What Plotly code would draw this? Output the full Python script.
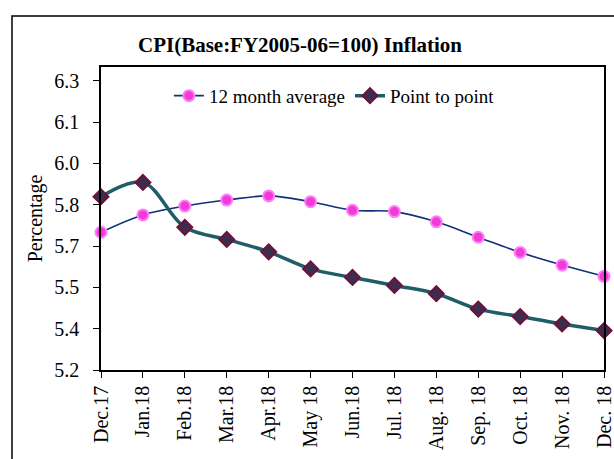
import plotly.graph_objects as go

months = ["Dec.17", "Jan.18", "Feb.18", "Mar.18", "Apr.18", "May 18", "Jun.18",
          "Jul. 18", "Aug. 18", "Sep. 18", "Oct. 18", "Nov. 18", "Dec. 18"]
avg_12m = [5.70, 5.763, 5.795, 5.817, 5.832, 5.811, 5.780, 5.775, 5.738, 5.682, 5.627, 5.581, 5.540]
point_to_point = [5.829, 5.881, 5.718, 5.674, 5.629, 5.567, 5.536, 5.507, 5.477, 5.421, 5.394, 5.367, 5.343]

y_tickvals = [5.2, 5.35, 5.5, 5.65, 5.8, 5.95, 6.1, 6.25]
y_ticktext = ["5.2", "5.4", "5.5", "5.7", "5.8", "6.0", "6.1", "6.3"]

FONT = "Liberation Serif, Times New Roman, serif"
W, H = 614, 459

fig = go.Figure()
fig.add_trace(go.Scatter(
    x=months, y=avg_12m, name="12 month average",
    mode="lines+markers",
    line=dict(color="#10307A", width=1.6, shape="spline", smoothing=1),
    marker=dict(symbol="circle", size=11, color="#F03CD2",
                line=dict(color="#FF7CFF", width=2)),
    cliponaxis=False,
))
fig.add_trace(go.Scatter(
    x=months, y=point_to_point, name="Point to point",
    mode="lines+markers",
    line=dict(color="#1F5E68", width=3.5, shape="spline", smoothing=1),
    marker=dict(symbol="diamond", size=12, color="#3D2C4C",
                line=dict(color="#7A0A3A", width=1.5)),
    cliponaxis=False,
))

fig.update_layout(
    width=W, height=H,
    margin=dict(l=101, r=10, t=67, b=89),
    paper_bgcolor="white", plot_bgcolor="white",
    font=dict(family=FONT, size=20, color="black"),
    title=dict(text="<b>CPI(Base:FY2005-06=100) Inflation</b>",
               x=300 / W, xanchor="center", xref="container",
               y=1 - 45 / H, yanchor="middle",
               font=dict(family=FONT, size=21, color="black")),
    legend=dict(orientation="h", x=0.793, xanchor="right", y=0.905, yanchor="middle",
                bgcolor="rgba(0,0,0,0)", font=dict(family=FONT, size=19),
                itemwidth=30, tracegroupgap=0),
    showlegend=True,
    shapes=[dict(type="rect", xref="paper", yref="paper",
                 x0=(12 - 101) / 503, x1=1.2, y0=-0.5, y1=(370 - 16) / 303,
                 line=dict(color="black", width=1.5), fillcolor="rgba(0,0,0,0)",
                 layer="below")],
)

fig.update_xaxes(
    type="category", range=[0, 12], tickangle=-90, automargin=False,
    showline=True, mirror=True, linecolor="black", linewidth=1.5,
    ticks="outside", ticklen=6, tickcolor="black", tickwidth=1.2,
    showgrid=False, zeroline=False,
    tickfont=dict(family=FONT, size=20),
)
fig.update_yaxes(
    range=[5.2, 6.3], tickvals=y_tickvals, ticktext=y_ticktext, automargin=False,
    showline=True, mirror=True, linecolor="black", linewidth=1.5,
    ticks="outside", ticklen=6, tickcolor="black", tickwidth=1.2,
    showgrid=False, zeroline=False, ticklabelstandoff=10,
    tickfont=dict(family=FONT, size=20),
    title=dict(text="Percentage", font=dict(family=FONT, size=20), standoff=6),
)

fig.write_html("out.html", config={"displayModeBar": False},
               post_script="document.body.style.margin='0';")
